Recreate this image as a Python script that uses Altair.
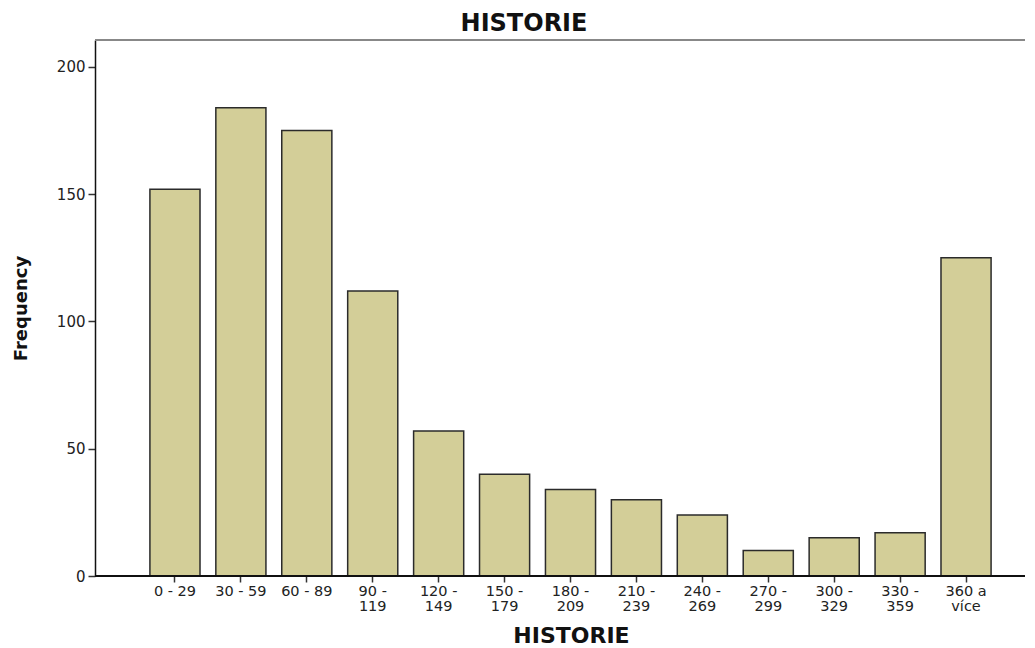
import altair as alt
import pandas as pd

categories = ["0 - 29", "30 - 59", "60 - 89", "90 -\n119", "120 -\n149", "150 -\n179",
              "180 -\n209", "210 -\n239", "240 -\n269", "270 -\n299", "300 -\n329",
              "330 -\n359", "360 a\nvíce"]
frequency = [152, 184, 175, 112, 57, 40, 34, 30, 24, 10, 15, 17, 125]
y_ticks = [0, 50, 100, 150, 200]

df = pd.DataFrame({"cat": categories, "freq": frequency})

W, H = 930, 536
FONT = "DejaVu Sans"

bars = alt.Chart(df).mark_bar(
    fill="#D3CE98", stroke="#2b2b2b", strokeWidth=1.5
).encode(
    x=alt.X("cat:N", sort=categories,
            scale=alt.Scale(range=[47, 904], paddingInner=0.24, paddingOuter=0.12),
            axis=alt.Axis(title="HISTORIE", labelAngle=0,
                          labelExpr="split(datum.label, '\\n')",
                          labelFont=FONT, labelFontSize=14.5, labelColor="#222",
                          labelLineHeight=15, labelPadding=2,
                          tickSize=6, tickColor="#333", tickWidth=1.5,
                          domain=False,
                          titleFont=FONT, titleFontSize=22, titleFontWeight="bold",
                          titleColor="#111", titleX=476, titleY=66,
                          titleBaseline="alphabetic", titleAlign="center")),
    y=alt.Y("freq:Q", scale=alt.Scale(domain=[0, 210.6], nice=False),
            axis=alt.Axis(title="Frequency", values=y_ticks, grid=False,
                          labelFont=FONT, labelFontSize=15, labelColor="#222",
                          labelPadding=3, tickSize=7, tickColor="#333", tickWidth=1.5,
                          domainColor="#111", domainWidth=1.5,
                          titleFont=FONT, titleFontSize=18, titleFontWeight="bold",
                          titleColor="#111", titlePadding=26))
)

topline = alt.Chart(df).mark_rule(color="#888", strokeWidth=2).encode(
    x=alt.value(0), x2=alt.value(W), y=alt.value(0)
)
bottomline = alt.Chart(df).mark_rule(color="#111", strokeWidth=1.5).encode(
    x=alt.value(0), x2=alt.value(W), y=alt.value(H)
)

chart = alt.layer(bars, topline, bottomline).properties(
    width=W, height=H,
    title=alt.TitleParams("HISTORIE", font=FONT, fontSize=24, fontWeight="bold",
                          color="#111", anchor="middle", frame="group", dx=-36, offset=3),
    padding={"left": 87, "top": 32, "right": 0, "bottom": 72},
    autosize=alt.AutoSizeParams(type="none"),
).configure_view(fill="#F0F0F0", stroke=None).configure(background="white")

chart.save("out.html", embed_options={"renderer": "svg", "actions": False})
